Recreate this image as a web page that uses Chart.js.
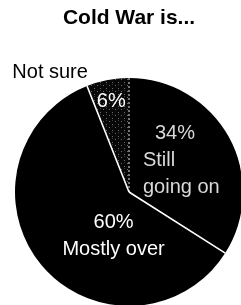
<!DOCTYPE html>
<html>
<head>
<meta charset="utf-8">
<script src="https://cdn.jsdelivr.net/npm/chart.js@4/dist/chart.umd.min.js"></script>
<style>
  html, body { margin: 0; padding: 0; background: #fff; overflow: hidden; }
  #wrap { position: absolute; left: 0; top: 0; }
</style>
</head>
<body>
<div id="wrap"><canvas id="pie" width="260" height="320"></canvas></div>
<script>
// answers, clockwise from 12 o'clock
const answerLines = [["Still", "going on"], ["Mostly over"], ["Not sure"]];
const answers = answerLines.map(l => l.join(" "));
const shares = [34, 60, 6];

// sparse speckle for the "not sure" slice
function stipple() {
    const c = document.createElement("canvas");
    c.width = 6; c.height = 6;
    const g = c.getContext("2d");
    g.fillStyle = "#080808";
    g.fillRect(0, 0, 6, 6);
    g.fillStyle = "#6a6a6a";
    g.fillRect(1, 1, 1, 1);
    g.fillRect(4, 4, 1, 1);
    g.fillStyle = "#3a3a3a";
    g.fillRect(4, 0, 1, 1);
    return g.createPattern(c, "repeat");
}

const sliceColors = ["#000000", "#000000", stipple()];
const edgeDash = [[2, 2], [], []];      // line drawn at the start of each slice
const edgeColor = ["rgba(255,255,255,0.75)", "#ffffff", "#ffffff"];

// text placement relative to each slice's centre point
const textLayout = [
    { color: "#d9d9d9", align: "left", rows: [[-24, -25.5], [-36, 1.5], [-36, 28]] },
    { color: "#ffffff", align: "center", rows: [[28.5, 0], [28.5, 27]] },
    { color: "#ffffff", align: "center", rows: [[-7, -29]] },
];
const outsideLayout = [null, null, { color: "#000000", align: "left", at: [-106, -58] }];

const sliceEdges = {
    id: "sliceEdges",
    afterDatasetsDraw(chart) {
        const ctx = chart.ctx;
        const meta = chart.getDatasetMeta(0);
        ctx.save();
        meta.data.forEach((arc, i) => {
            const p = arc.getProps(["x", "y", "startAngle", "outerRadius"], true);
            ctx.beginPath();
            ctx.setLineDash(edgeDash[i]);
            ctx.strokeStyle = edgeColor[i];
            ctx.lineWidth = i === 0 ? 1.2 : 1.6;
            ctx.moveTo(p.x, p.y);
            ctx.lineTo(p.x + Math.cos(p.startAngle) * p.outerRadius,
                       p.y + Math.sin(p.startAngle) * p.outerRadius);
            ctx.stroke();
        });
        ctx.restore();
    },
};

const sliceText = {
    id: "sliceText",
    afterDraw(chart) {
        const ctx = chart.ctx;
        const meta = chart.getDatasetMeta(0);
        ctx.save();
        ctx.font = "20px 'Liberation Sans', Arial, sans-serif";
        ctx.textBaseline = "alphabetic";
        meta.data.forEach((arc, i) => {
            const c = arc.getCenterPoint(true);
            const inside = i === 2 ? [shares[i] + "%"] : [shares[i] + "%", ...answerLines[i]];
            const lay = textLayout[i];
            ctx.fillStyle = lay.color;
            ctx.textAlign = lay.align;
            inside.forEach((t, k) => {
                ctx.fillText(t, c.x + lay.rows[k][0], c.y + lay.rows[k][1]);
            });
            const out = outsideLayout[i];
            if (out) {
                ctx.fillStyle = out.color;
                ctx.textAlign = out.align;
                ctx.fillText(answers[i], c.x + out.at[0], c.y + out.at[1]);
            }
        });
        ctx.restore();
    },
};

new Chart(document.getElementById("pie"), {
    type: "pie",
    data: {
        labels: answers,
        datasets: [{
            data: shares,
            backgroundColor: sliceColors,
            borderWidth: 0,
            hoverOffset: 0,
            offset: 0,
        }],
    },
    options: {
        responsive: false,
        animation: false,
        events: [],
        layout: { padding: { left: 15, right: 17, top: 0, bottom: 14 } },
        plugins: {
            legend: { display: false },
            tooltip: { enabled: false },
            title: {
                display: true,
                text: "Cold War is...",
                color: "#000",
                font: { family: "'Liberation Sans', Arial, sans-serif", size: 21, weight: "bold" },
                padding: { top: 6, bottom: 46.8 },
            },
        },
    },
    plugins: [sliceEdges, sliceText],
});
</script>
</body>
</html>
